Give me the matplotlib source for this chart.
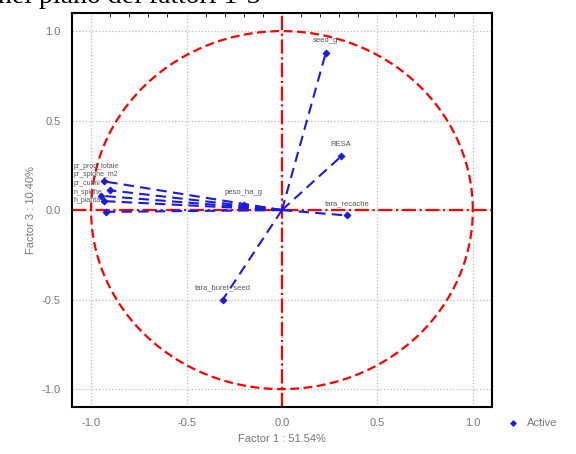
import numpy as np
import matplotlib.pyplot as plt

# variable loadings on factor 1 and factor 3
var_names = ['pr_prod_totale', 'pr_spighe_m2', 'pr_culmi', 'n_spighe',
             'h_pianta', 'peso_ha_g', 'seed_g', 'RESA', 'tara_recache',
             'tara_buret_seed']
f1 = [-0.93, -0.90, -0.95, -0.93, -0.92, -0.20, 0.23, 0.31, 0.34, -0.31]
f3 = [0.16, 0.11, 0.08, 0.05, -0.01, 0.03, 0.88, 0.30, -0.03, -0.50]

x_ticks = [-1.0, -0.5, 0.0, 0.5, 1.0]
y_ticks = [-1.0, -0.5, 0.0, 0.5, 1.0]

plt.rcParams['font.family'] = ['Liberation Sans', 'DejaVu Sans']

fig = plt.figure(figsize=(5.76, 4.54), dpi=100)
ax = fig.add_axes([0.125, 0.1035, 0.729, 0.8675])

# unit circle
t = np.linspace(0, 2 * np.pi, 400)
ax.plot(np.cos(t), np.sin(t), color='red', lw=1.6, ls=(0, (4, 2)), zorder=2)
ax.axhline(0, color='red', lw=1.6, ls='-.', zorder=2)
ax.axvline(0, color='red', lw=1.6, ls='-.', zorder=2)

# arrows from origin
for x, y in zip(f1, f3):
    ax.plot([0, x], [0, y], color='#1a1ae0', lw=1.5, ls=(0, (5, 3)), zorder=3)
ax.scatter(f1, f3, marker='D', s=10, color='#1a1ae0', zorder=4, label='Active')

k = 0
for name, x, y in zip(var_names, f1, f3):
    if x < -0.8:
        # crowded group on the left, labels stacked against the frame
        ax.text(-1.09, 0.245 - 0.048 * k, name, ha='left', va='center',
                fontsize=5, color='#555555', zorder=5)
        k += 1
    else:
        ax.annotate(name, (x, y), xytext=(0, 6), textcoords='offset points',
                    ha='center', va='bottom', fontsize=5.5, color='#555555', zorder=5)

ax.set_xlim(-1.1, 1.1)
ax.set_ylim(-1.1, 1.1)
ax.set_xticks(x_ticks)
ax.set_yticks(y_ticks)
ax.set_xticklabels(['%.1f' % v for v in x_ticks])
ax.set_yticklabels(['%.1f' % v for v in y_ticks])
ax.tick_params(colors='#777777', labelsize=8, length=0, pad=8)
ax.set_xticks(np.arange(-1.0, 1.01, 0.1), minor=True)
ax.tick_params(which='minor', top=True, bottom=False, direction='in', length=3, color='black')
ax.grid(True, color='#bbbbbb', ls=':', lw=0.9)
for s in ax.spines.values():
    s.set_linewidth(1.5)

ax.set_xlabel('Factor 1 : 51.54%', color='#777777', fontsize=8)
ax.set_ylabel('Factor 3 : 10.40%', color='#777777', fontsize=8)

ax.legend(loc='center left', bbox_to_anchor=(1.0, -0.04), frameon=False,
          fontsize=8, labelcolor='#777777', handletextpad=0.3, markerscale=0.8)

fig.text(-0.003, 1.035, 'nel piano dei fattori 1-3', family='Liberation Serif',
         fontsize=20, va='top', ha='left')

fig.savefig('out.png', dpi=100)
